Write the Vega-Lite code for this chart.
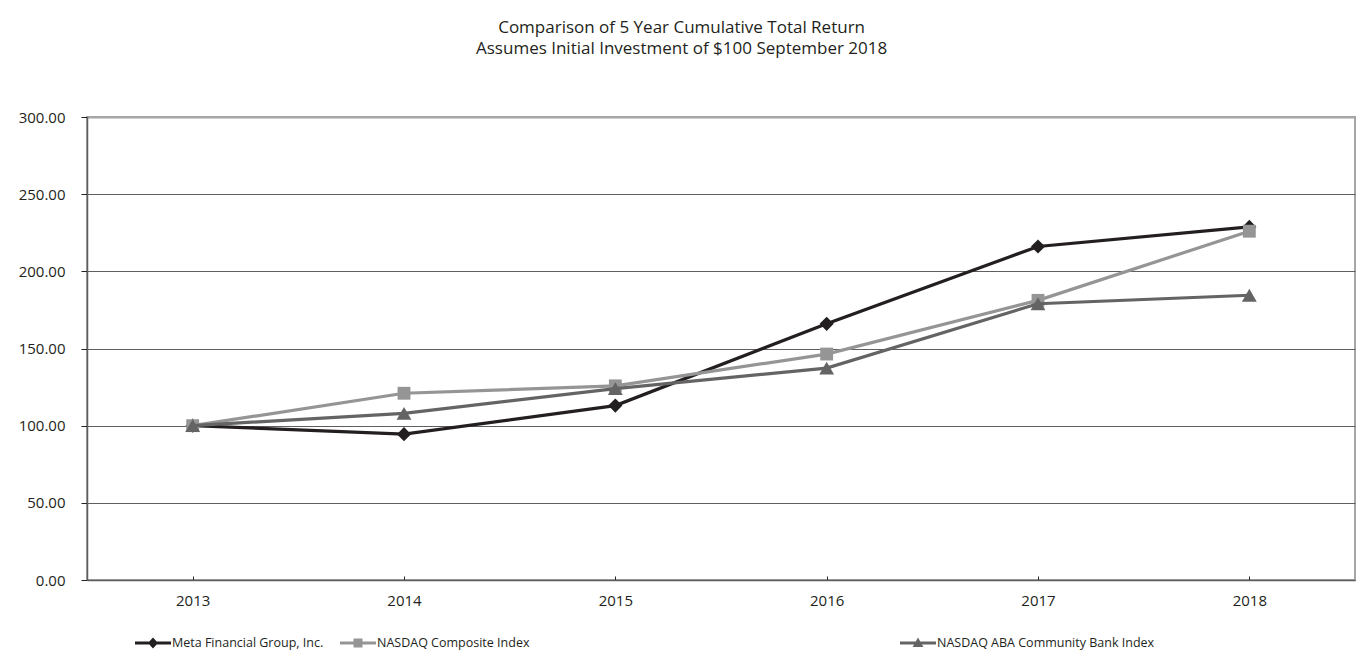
{
  "$schema": "https://vega.github.io/schema/vega-lite/v6.json",
  "width": 1268,
  "height": 463,
  "autosize": {"type": "none"},
  "padding": {"left": 87, "top": 117, "right": 7, "bottom": 89},
  "background": "white",
  "title": {
    "text": ["Comparison of 5 Year Cumulative Total Return", "Assumes Initial Investment of $100 September 2018"],
    "anchor": "middle",
    "frame": "bounds",
    "font": "Open Sans",
    "fontSize": 17,
    "fontWeight": "normal",
    "color": "#231f20",
    "lineHeight": 21,
    "offset": 52,
    "dx": -5
  },
  "config": {
    "view": {"stroke": "#a6a6a6", "strokeWidth": 2},
    "font": "Open Sans"
  },
  "data": {
    "values": [
      {"year": "2013", "series": "Meta Financial Group, Inc.", "value": 100.0},
      {"year": "2014", "series": "Meta Financial Group, Inc.", "value": 94.5},
      {"year": "2015", "series": "Meta Financial Group, Inc.", "value": 113.0},
      {"year": "2016", "series": "Meta Financial Group, Inc.", "value": 166.0},
      {"year": "2017", "series": "Meta Financial Group, Inc.", "value": 216.1},
      {"year": "2018", "series": "Meta Financial Group, Inc.", "value": 228.8},
      {"year": "2013", "series": "NASDAQ Composite Index", "value": 100.0},
      {"year": "2014", "series": "NASDAQ Composite Index", "value": 121.0},
      {"year": "2015", "series": "NASDAQ Composite Index", "value": 125.8},
      {"year": "2016", "series": "NASDAQ Composite Index", "value": 146.4},
      {"year": "2017", "series": "NASDAQ Composite Index", "value": 181.2},
      {"year": "2018", "series": "NASDAQ Composite Index", "value": 226.0},
      {"year": "2013", "series": "NASDAQ ABA Community Bank Index", "value": 100.0},
      {"year": "2014", "series": "NASDAQ ABA Community Bank Index", "value": 108.0},
      {"year": "2015", "series": "NASDAQ ABA Community Bank Index", "value": 124.0},
      {"year": "2016", "series": "NASDAQ ABA Community Bank Index", "value": 137.3},
      {"year": "2017", "series": "NASDAQ ABA Community Bank Index", "value": 179.0},
      {"year": "2018", "series": "NASDAQ ABA Community Bank Index", "value": 184.5}
    ]
  },
  "encoding": {
    "x": {
      "field": "year",
      "type": "ordinal",
      "scale": {"type": "point", "padding": 0.5},
      "axis": {
        "title": null,
        "labelAngle": 0,
        "labelFont": "Open Sans",
        "labelFontSize": 15,
        "labelColor": "#231f20",
        "domainColor": "#5f5f5f",
        "domainWidth": 1.5,
        "tickColor": "#231f20",
        "tickSize": -4,
        "tickWidth": 1,
        "labelPadding": 17,
        "grid": false
      }
    },
    "y": {
      "field": "value",
      "type": "quantitative",
      "scale": {"domain": [0, 300], "nice": false, "zero": true},
      "axis": {
        "title": null,
        "values": [0, 50, 100, 150, 200, 250, 300],
        "format": ".2f",
        "labelFont": "Open Sans",
        "labelFontSize": 15,
        "labelColor": "#231f20",
        "labelPadding": 16,
        "tickSize": 6,
        "tickColor": "#231f20",
        "tickWidth": 1,
        "domainColor": "#5f5f5f",
        "domainWidth": 1.5,
        "grid": true,
        "gridColor": {"condition": {"test": "datum.value == 300", "value": "#a6a6a6"}, "value": "#5f5f5f"},
        "gridWidth": {"condition": {"test": "datum.value == 300", "value": 2}, "value": 1},
        "gridOpacity": 1
      }
    }
  },
  "layer": [
    {
      "transform": [{"filter": "datum.series === 'Meta Financial Group, Inc.'"}],
      "mark": {"type": "line", "strokeWidth": 3.2, "point": {"shape": "diamond", "size": 200, "filled": true, "opacity": 1}},
      "encoding": {
        "color": {
          "field": "series",
          "type": "nominal",
          "scale": {"range": ["#231f20"]},
          "legend": {
            "orient": "none",
            "legendX": 48,
            "legendY": 508,
            "title": null,
            "direction": "horizontal",
            "padding": 0,
            "labelFont": "Open Sans",
            "labelFontSize": 12.5,
            "labelLimit": 500,
            "labelColor": "#231f20",
            "labelOffset": 1,
            "symbolSize": 1296,
            "encode": {
              "symbols": {
                "update": {
                  "shape": {"value": "M-1,-0.09L1,-0.09L1,0.09L-1,0.09Z M0,-0.3L0.28,0L0,0.3L-0.28,0Z"},
                  "fill": {"value": "#231f20"},
                  "stroke": {"value": "#231f20"},
                  "strokeWidth": {"value": 0},
                  "opacity": {"value": 1}
                }
              }
            }
          }
        }
      }
    },
    {
      "transform": [{"filter": "datum.series === 'NASDAQ Composite Index'"}],
      "mark": {"type": "line", "strokeWidth": 3.2, "point": {"shape": "square", "size": 165, "filled": true, "opacity": 1}},
      "encoding": {
        "color": {
          "field": "series",
          "type": "nominal",
          "scale": {"range": ["#959595"]},
          "legend": {
            "orient": "none",
            "legendX": 253,
            "legendY": 508,
            "title": null,
            "direction": "horizontal",
            "padding": 0,
            "labelFont": "Open Sans",
            "labelFontSize": 12.5,
            "labelLimit": 500,
            "labelColor": "#231f20",
            "labelOffset": 1,
            "symbolSize": 1296,
            "encode": {
              "symbols": {
                "update": {
                  "shape": {"value": "M-1,-0.09L1,-0.09L1,0.09L-1,0.09Z M-0.25,-0.25L0.25,-0.25L0.25,0.25L-0.25,0.25Z"},
                  "fill": {"value": "#959595"},
                  "stroke": {"value": "#959595"},
                  "strokeWidth": {"value": 0},
                  "opacity": {"value": 1}
                }
              }
            }
          }
        }
      }
    },
    {
      "transform": [{"filter": "datum.series === 'NASDAQ ABA Community Bank Index'"}],
      "mark": {"type": "line", "strokeWidth": 3.2, "point": {"shape": "triangle-up", "size": 220, "filled": true, "opacity": 1}},
      "encoding": {
        "color": {
          "field": "series",
          "type": "nominal",
          "scale": {"range": ["#646464"]},
          "legend": {
            "orient": "none",
            "legendX": 813,
            "legendY": 508,
            "title": null,
            "direction": "horizontal",
            "padding": 0,
            "labelFont": "Open Sans",
            "labelFontSize": 12.5,
            "labelLimit": 500,
            "labelColor": "#231f20",
            "labelOffset": 1,
            "symbolSize": 1296,
            "encode": {
              "symbols": {
                "update": {
                  "shape": {"value": "M-1,-0.09L1,-0.09L1,0.09L-1,0.09Z M0,-0.3L0.3,0.22L-0.3,0.22Z"},
                  "fill": {"value": "#646464"},
                  "stroke": {"value": "#646464"},
                  "strokeWidth": {"value": 0},
                  "opacity": {"value": 1}
                }
              }
            }
          }
        }
      }
    }
  ],
  "resolve": {"scale": {"color": "independent"}, "legend": {"color": "independent"}}
}
